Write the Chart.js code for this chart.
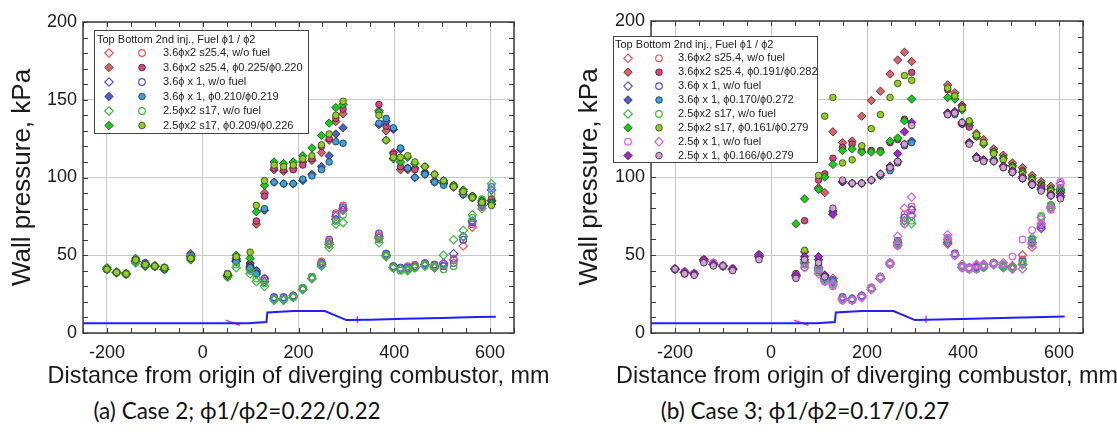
<!DOCTYPE html>
<html lang="en">
<head>
<meta charset="UTF-8" />
<title>Wall pressure distributions</title>
<script src="https://cdn.jsdelivr.net/npm/chart.js"></script>
<style>
  body { margin: 0; background: #fff; }
  #wrap { position: relative; width: 1117px; height: 436px; overflow: hidden; }
  canvas { position: absolute; top: 0; }
  #chartA { left: 0; }
  #chartB { left: 559px; }
  .caption { position: absolute; top: 397px; font-family: Lato, "Noto Sans", sans-serif; font-size: 22.5px; color: #111; white-space: nowrap; transform: translateX(-50%); }
</style>
</head>
<body>
<div id="wrap">
  <canvas id="chartA" width="558" height="392"></canvas>
  <canvas id="chartB" width="558" height="392"></canvas>
  <div class="caption" style="left:237px">(a) Case 2; ϕ1/ϕ2=0.22/0.22</div>
  <div class="caption" style="left:805px">(b) Case 3; ϕ1/ϕ2=0.17/0.27</div>
</div>

<script>
// port positions along the combustor, mm
const ports = [-200,-180,-160,-140,-120,-100,-80,-25, 52,70, 99,112,129, 149,169,189,209,228,248,264,278,293, 368,383,398,413,428,443,464,484,503,524,544,563,583,603];

// combustor outline (drawn in the same axes) and injector marks
const geoX = [-250, 95, 133, 135, 190, 255, 300, 350, 420, 500, 570, 612];
const geoY = [6.3, 6.3, 7, 13.2, 14.1, 14.1, 8.3, 8.6, 9.2, 9.7, 10.3, 10.5];
const markAX = [48, 78], markAY = [8.2, 5.0];
const markBX = [323, 323], markBY = [11, 6.4];

const xTicks = [-200, 0, 200, 400, 600];
const yTicks = [0, 50, 100, 150, 200];
const xTitle = 'Distance from origin of diverging combustor, mm';
const yTitle = 'Wall pressure, kPa';

// Case 2
const c2RedTopWo   = [41,39,38,46,44,43,41,50, 37,47, 42,39,35, 22,22,24,28,35,45,58,75,80, 62,50,42,41,42,43,44,43,44,47,56,68,82,85];
const c2RedBotWo   = [41,39,38,47,45,43,42,50, 38,48, 43,40,34, 23,23,24,29,36,46,59,77,82, 63,51,43,42,43,44,45,44,43,48,60,70,81,86];
const c2RedTopF    = [41,39,38,47,45,43,42,51, 37,48, 45,70,90, 105,104,106,110,111,116,124,136,141, 143,130,116,105,105,106,102,98,97,94,91,88,85,85];
const c2RedBotF    = [41,39,38,46,44,43,41,50, 36,47, 44,72,88, 106,105,105,108,112,120,125,138,144, 147,133,115,107,106,105,103,97,96,95,90,88,84,86];
const c2BlueTopWo  = [41,39,38,46,44,43,41,49, 37,46, 41,38,33, 22,22,23,28,35,44,57,73,79, 61,50,42,41,41,42,44,42,45,51,62,72,82,92];
const c2BlueBotWo  = [41,39,38,47,45,43,42,50, 38,47, 42,39,35, 23,23,24,29,36,45,60,76,81, 64,51,43,42,42,43,45,44,43,45,60,71,83,94];
const c2BlueTopF   = [41,39,38,46,44,43,41,49, 36,46, 43,40,79, 97,96,96,98,102,107,114,128,132, 134,136,131,118,106,100,103,97,96,94,89,87,84,83];
const c2BlueBotF   = [41,39,38,46,44,43,41,49, 36,46, 42,38,80, 97,96,96,99,101,105,110,123,122, 135,138,132,119,106,100,102,97,95,94,89,87,85,84];
const c2GreenTopWo = [41,39,38,45,43,43,41,48, 36,42, 38,33,30, 21,21,23,28,35,43,55,70,71, 58,49,42,41,40,42,43,42,50,60,66,76,80,96];
const c2GreenBotWo = [41,39,38,46,44,43,42,49, 37,44, 40,35,32, 22,22,23,29,36,44,57,72,76, 60,50,42,40,41,42,44,43,41,43,62,74,86,89];
const c2GreenTopF  = [42,39,38,48,43,43,41,47, 37,50, 48,78,95, 110,109,110,114,119,127,135,145,147, 142,124,112,110,113,109,107,102,98,95,92,88,85,83];
const c2GreenBotF  = [41,39,38,47,44,43,42,48, 38,49, 52,82,98, 108,107,108,112,114,121,128,140,149, 140,124,113,113,114,110,107,102,98,94,91,87,84,82];

// Case 3
const c3RedTopWo    = [41,39,38,46,44,43,41,50, 37,45, 42,37,35, 22,21,24,28,35,45,57,74,79, 57,50,42,42,43,44,44,43,43,50,55,68,80,92];
const c3RedBotWo    = [41,38,38,47,45,43,41,49, 38,44, 43,36,33, 23,21,23,29,36,44,59,76,81, 59,51,43,41,42,43,45,44,42,47,58,70,82,93];
const c3RedTopF     = [41,39,38,47,44,43,41,50, 37,52, 93,90,129, 122,123,139,149,155,166,175,180,174, 159,154,146,133,128,124,118,114,109,106,101,97,94,92];
const c3RedBotF     = [41,39,38,46,45,43,41,49, 36,72, 98,102,112, 119,121,117,117,117,122,124,137,167, 156,152,145,132,126,122,116,112,107,104,99,95,92,90];
const c3BlueTopWo   = [41,39,38,46,44,43,41,49, 37,45, 41,35,33, 22,22,23,28,35,44,58,72,75, 58,50,42,41,42,43,44,42,41,44,58,67,80,91];
const c3BlueBotWo   = [41,39,38,46,44,43,41,50, 37,44, 42,36,34, 23,22,24,29,36,45,59,74,79, 60,51,43,42,42,43,45,43,42,46,60,69,82,95];
const c3BlueTopF    = [41,39,38,46,44,43,41,50, 37,47, 47,36,78, 97,96,96,98,101,105,110,121,123, 141,141,135,122,113,111,111,107,103,99,95,92,88,87];
const c3BlueBotF    = [41,39,38,46,44,43,41,50, 36,46, 40,35,77, 97,96,96,98,101,104,109,120,122, 140,140,134,122,112,110,111,106,103,99,95,92,89,88];
const c3GreenTopWo  = [41,39,38,46,44,43,41,49, 37,45, 40,34,32, 21,21,23,28,35,44,56,70,70, 60,50,42,41,41,42,44,42,41,44,61,74,81,90];
const c3GreenBotWo  = [41,39,38,46,44,43,41,49, 37,44, 39,35,31, 22,21,23,29,36,45,58,72,72, 61,50,43,41,41,42,44,43,42,45,59,75,82,93];
const c3GreenTopF   = [41,39,38,47,44,43,41,49, 70,86, 92,100,108, 117,118,116,116,116,123,125,136,150, 151,150,143,135,126,121,116,112,107,103,99,95,92,90];
const c3GreenBotF   = [41,39,38,47,44,43,41,49, 38,53, 101,139,151, 109,111,120,131,140,151,160,165,162, 157,152,144,136,127,122,115,111,106,102,98,94,91,89];
const c3PinkTopWo   = [41,39,38,46,44,43,41,49, 37,42, 41,33,30, 21,21,23,28,35,44,56,70,76, 61,50,42,41,41,43,44,44,49,60,66,73,79,97];
const c3PinkBotWo   = [41,39,38,47,45,43,41,49, 36,42, 38,33,31, 22,21,23,29,36,45,62,80,87, 63,50,44,42,44,44,45,45,41,41,57,70,80,96];
const c3PurpleTopF  = [41,39,38,47,44,43,41,49, 37,49, 49,37,76, 97,96,96,98,102,107,115,129,135, 141,142,134,122,113,111,110,107,104,100,96,93,89,88];
const c3PurpleBotF  = [41,38,37,45,43,43,40,47, 35,47, 45,36,80, 98,96,96,98,102,106,110,121,133, 140,141,135,121,112,110,110,106,103,99,95,91,88,86];

const legendHead = "Top Bottom 2nd inj., Fuel ϕ1 / ϕ2";
const legendA = ["3.6ϕx2 s25.4, w/o fuel", "3.6ϕx2 s25.4, ϕ0.225/ϕ0.220", "3.6ϕ x 1, w/o fuel",
                 "3.6ϕ x 1, ϕ0.210/ϕ0.219", "2.5ϕx2 s17, w/o fuel", "2.5ϕx2 s17, ϕ0.209/ϕ0.226"];
const legendB = ["3.6ϕx2 s25.4, w/o fuel", "3.6ϕx2 s25.4, ϕ0.191/ϕ0.282", "3.6ϕ x 1, w/o fuel",
                 "3.6ϕ x 1, ϕ0.170/ϕ0.272", "2.5ϕx2 s17, w/o fuel", "2.5ϕx2 s17, ϕ0.161/ϕ0.279",
                 "2.5ϕ x 1, w/o fuel", "2.5ϕ x 1, ϕ0.166/ϕ0.279"];

// marker styles
const st = {
  redOpenD:   { shape: 'diamond', fill: null, line: '#e8505a' },
  redOpenC:   { shape: 'circle',  fill: null, line: '#e8505a' },
  redD:       { shape: 'diamond', fill: '#e0606a', line: '#3a2020' },
  pinkC:      { shape: 'circle',  fill: '#e0407f', line: '#3a2020' },
  blueOpenD:  { shape: 'diamond', fill: null, line: '#5050e8' },
  blueOpenC:  { shape: 'circle',  fill: null, line: '#5050e8' },
  blueD:      { shape: 'diamond', fill: '#4c5ed8', line: '#20203a' },
  skyC:       { shape: 'circle',  fill: '#3aa0e0', line: '#20303a' },
  greenOpenD: { shape: 'diamond', fill: null, line: '#3cb83c' },
  greenOpenC: { shape: 'circle',  fill: null, line: '#3cb83c' },
  greenD:     { shape: 'diamond', fill: '#14d014', line: '#203a20' },
  limeC:      { shape: 'circle',  fill: '#90d020', line: '#303a20' },
  magOpenC:   { shape: 'circle',  fill: null, line: '#d860e8' },
  magOpenD:   { shape: 'diamond', fill: null, line: '#d060e8' },
  purpleD:    { shape: 'diamond', fill: '#a820d8', line: '#302030' },
  lilacC:     { shape: 'circle',  fill: '#d4a0d8', line: '#302030' }
};

const seriesA = [
  [c2RedTopWo, st.redOpenD], [c2RedBotWo, st.redOpenC],
  [c2RedTopF, st.redD], [c2RedBotF, st.pinkC],
  [c2BlueTopWo, st.blueOpenD], [c2BlueBotWo, st.blueOpenC],
  [c2BlueTopF, st.blueD], [c2BlueBotF, st.skyC],
  [c2GreenTopWo, st.greenOpenD], [c2GreenBotWo, st.greenOpenC],
  [c2GreenTopF, st.greenD], [c2GreenBotF, st.limeC]
];
const seriesB = [
  [c3RedTopWo, st.redOpenD], [c3RedBotWo, st.redOpenC],
  [c3RedTopF, st.redD], [c3RedBotF, st.pinkC],
  [c3BlueTopWo, st.blueOpenD], [c3BlueBotWo, st.blueOpenC],
  [c3BlueTopF, st.blueD], [c3BlueBotF, st.skyC],
  [c3GreenTopWo, st.greenOpenD], [c3GreenBotWo, st.greenOpenC],
  [c3GreenTopF, st.greenD], [c3GreenBotF, st.limeC],
  [c3PinkTopWo, st.magOpenC], [c3PinkBotWo, st.magOpenD],
  [c3PurpleTopF, st.purpleD], [c3PurpleBotF, st.lilacC]
];

Chart.defaults.font.family = "'Liberation Sans', Arial, sans-serif";
Chart.defaults.color = '#1a1a1a';

function radiusOf(s) { return s.shape === 'diamond' ? 4.2 : 3.3; }

function drawMarker(ctx, s, x, y) {
  const r = radiusOf(s);
  ctx.beginPath();
  if (s.shape === 'diamond') {
    ctx.moveTo(x - r, y); ctx.lineTo(x, y - r); ctx.lineTo(x + r, y); ctx.lineTo(x, y + r); ctx.closePath();
  } else {
    ctx.arc(x, y, r, 0, Math.PI * 2);
  }
  if (s.fill) { ctx.fillStyle = s.fill; ctx.fill(); ctx.lineWidth = 0.8; } else { ctx.lineWidth = 1.2; }
  ctx.strokeStyle = s.line;
  ctx.stroke();
}

function scatterSet(ys, s, i) {
  return {
    data: ports.map((x, k) => ({ x: x, y: ys[k] })),
    showLine: false,
    order: 100 - i,
    pointStyle: s.shape === 'diamond' ? 'rectRot' : 'circle',
    pointRadius: radiusOf(s),
    pointBackgroundColor: s.fill || 'rgba(0,0,0,0)',
    pointBorderColor: s.line,
    pointBorderWidth: s.fill ? 0.8 : 1.2
  };
}

function lineSet(xs, ys, color, width) {
  return {
    data: xs.map((x, k) => ({ x: x, y: ys[k] })),
    showLine: true, pointRadius: 0, borderColor: color, borderWidth: width,
    fill: false, order: 200
  };
}

// frame with inward ticks on all four sides, plus the x title (Chart.js squeezes it to the axis width)
const framePlugin = {
  id: 'frame',
  afterDraw(chart) {
    const { ctx, chartArea: a, scales: { x, y } } = chart;
    ctx.save();
    ctx.strokeStyle = '#3a3a3a';
    ctx.lineWidth = 1;
    ctx.beginPath();
    for (let v = -250; v <= 650; v += 50) {
      const px = Math.round(x.getPixelForValue(v)) + 0.5;
      ctx.moveTo(px, a.bottom); ctx.lineTo(px, a.bottom - 5);
      ctx.moveTo(px, a.top); ctx.lineTo(px, a.top + 5);
    }
    for (let v = 0; v <= 200; v += 10) {
      const py = Math.round(y.getPixelForValue(v)) + 0.5;
      ctx.moveTo(a.left, py); ctx.lineTo(a.left + 5, py);
      ctx.moveTo(a.right, py); ctx.lineTo(a.right - 5, py);
    }
    ctx.stroke();
    ctx.lineWidth = 1.5;
    ctx.strokeRect(a.left, a.top, a.right - a.left, a.bottom - a.top);

    ctx.font = "23.4px 'Liberation Sans', Arial, sans-serif";
    ctx.fillStyle = '#1a1a1a';
    ctx.textAlign = 'center';
    ctx.textBaseline = 'middle';
    ctx.fillText(xTitle, (a.left + a.right) / 2, 377);
    ctx.restore();
  }
};

function legendPlugin(cfg) {
  return {
    id: 'boxLegend',
    afterDraw(chart) {
      const ctx = chart.ctx;
      ctx.save();
      ctx.fillStyle = '#fff';
      ctx.fillRect(cfg.box[0], cfg.box[1], cfg.box[2], cfg.box[3]);
      ctx.strokeStyle = '#444';
      ctx.lineWidth = 1;
      ctx.strokeRect(cfg.box[0] + 0.5, cfg.box[1] + 0.5, cfg.box[2], cfg.box[3]);
      ctx.font = cfg.font;
      ctx.fillStyle = '#222';
      ctx.textBaseline = 'middle';
      ctx.fillText(legendHead, cfg.headX, cfg.headY);
      cfg.labels.forEach((t, i) => {
        const yy = cfg.row0 + i * cfg.rowStep;
        drawMarker(ctx, cfg.series[2 * i][1], cfg.colTop, yy);
        drawMarker(ctx, cfg.series[2 * i + 1][1], cfg.colBot, yy);
        ctx.fillStyle = '#222';
        ctx.fillText(t, cfg.colText, yy);
      });
      ctx.restore();
    }
  };
}

function makeChart(id, series, pad, yWidth, yTitlePad, legendCfg) {
  const datasets = series.map((s, i) => scatterSet(s[0], s[1], i));
  datasets.push(lineSet(geoX, geoY, '#1f1fff', 2));
  datasets.push(lineSet(markAX, markAY, '#ff30d0', 1.5));
  datasets.push(lineSet(markBX, markBY, '#ff30d0', 1.5));
  return new Chart(document.getElementById(id), {
    type: 'scatter',
    data: { datasets: datasets },
    options: {
      responsive: false,
      animation: false,
      layout: { padding: pad },
      plugins: { legend: { display: false }, tooltip: { enabled: false } },
      scales: {
        x: {
          type: 'linear', min: -250, max: 650,
          afterBuildTicks: s => { s.ticks = xTicks.map(v => ({ value: v })); },
          afterFit: s => { s.height = 59; },
          grid: { color: '#c8c8c8', drawTicks: false },
          border: { display: false },
          ticks: { padding: 9, font: { size: 18 }, color: '#1a1a1a' },
          title: { display: false }
        },
        y: {
          type: 'linear', min: 0, max: 200,
          afterBuildTicks: s => { s.ticks = yTicks.map(v => ({ value: v })); },
          afterFit: s => { s.width = yWidth; },
          grid: { color: '#c8c8c8', drawTicks: false },
          border: { display: false },
          ticks: { padding: 6, font: { size: 18 }, color: '#1a1a1a' },
          title: { display: true, text: yTitle,
                   font: { size: 26 }, color: '#1a1a1a', padding: { top: yTitlePad, bottom: 0 } }
        }
      }
    },
    plugins: [framePlugin, legendPlugin(legendCfg)]
  });
}

makeChart('chartA', seriesA, { top: 22, right: 44, left: 0, bottom: 0 }, 83, 7, {
  box: [94, 30, 214, 103], font: "11px 'Liberation Sans', Arial, sans-serif",
  headX: 97, headY: 40, row0: 53, rowStep: 14.5,
  colTop: 109, colBot: 142, colText: 163, labels: legendA, series: seriesA
});

makeChart('chartB', seriesB, { top: 21, right: 34, left: 0, bottom: 0 }, 92, 15, {
  box: [54, 36, 204, 126], font: "11px 'Liberation Sans', Arial, sans-serif",
  headX: 56, headY: 45, row0: 58.3, rowStep: 13.9,
  colTop: 69, colBot: 100, colText: 119, labels: legendB, series: seriesB
});
</script>
</body>
</html>
